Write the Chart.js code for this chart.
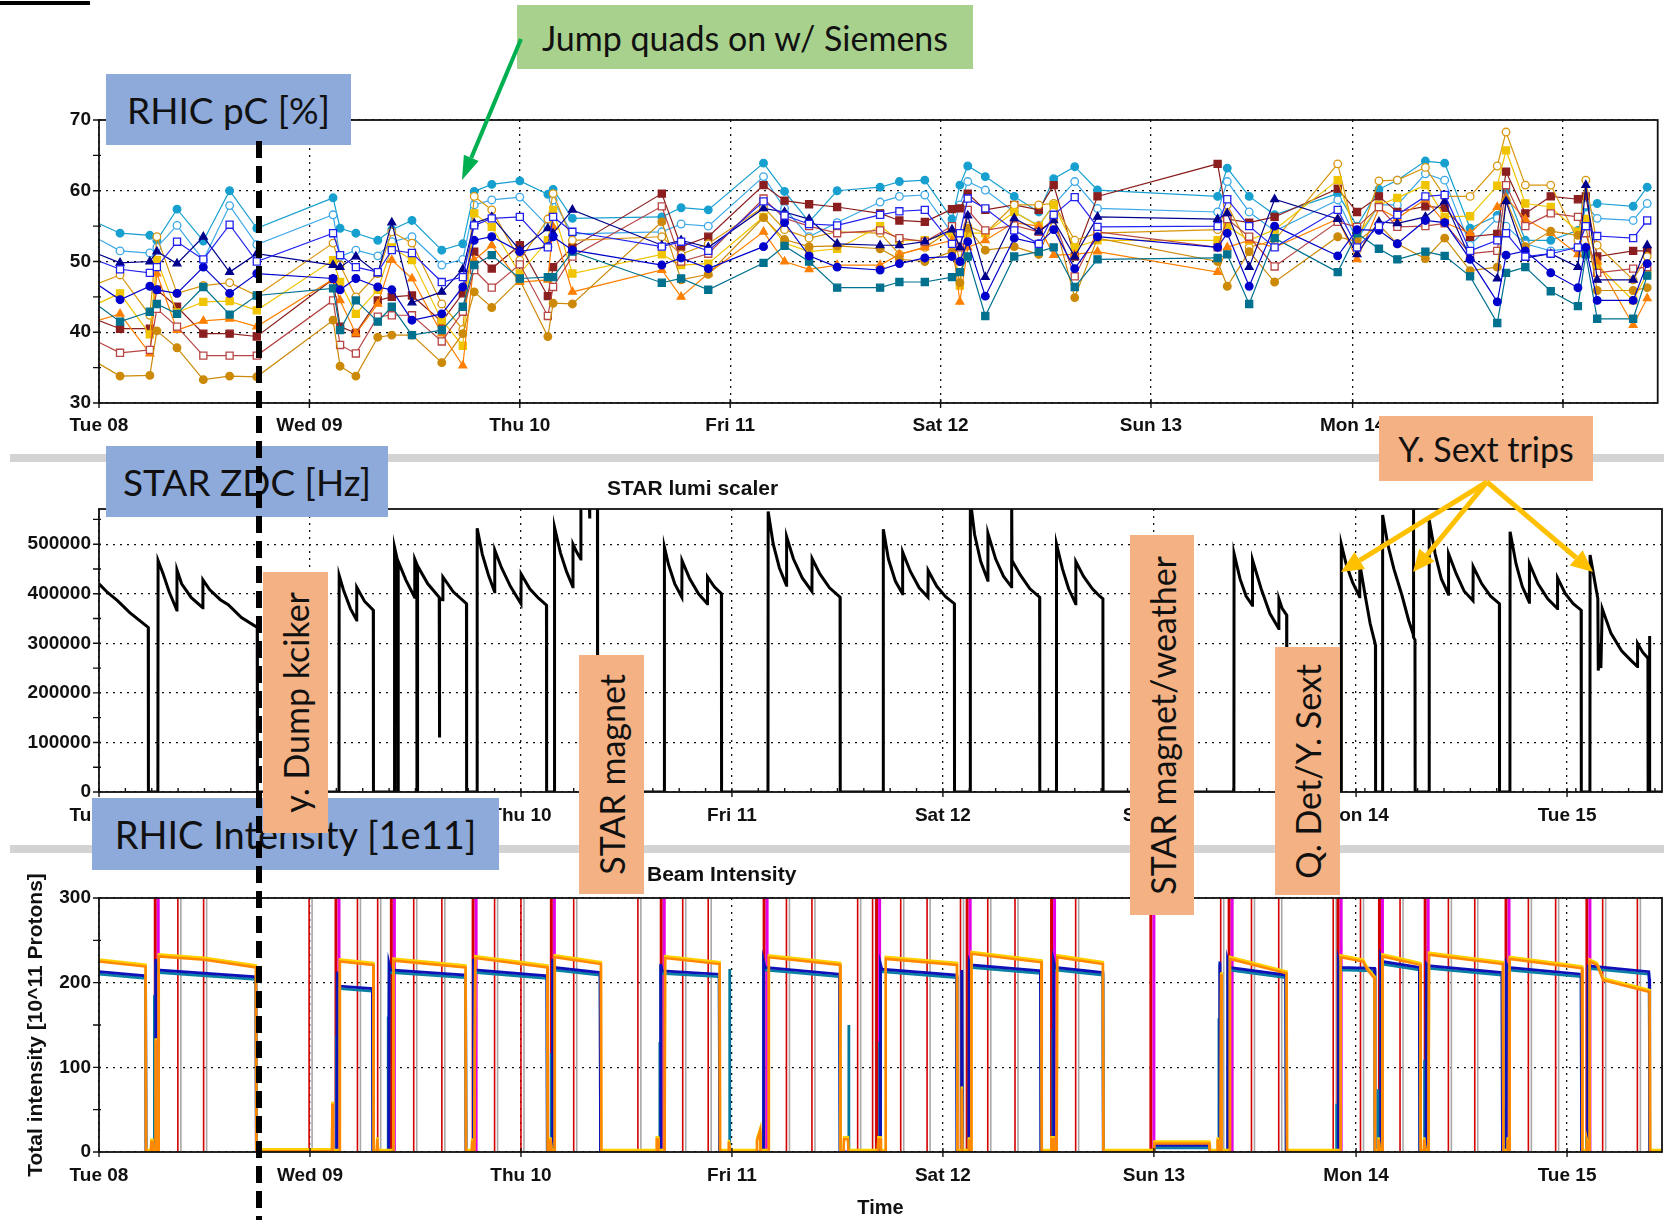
<!DOCTYPE html>
<html>
<head>
<meta charset="utf-8">
<title>RHIC pC / STAR ZDC / RHIC Intensity</title>
<script src="https://cdn.jsdelivr.net/npm/chart.js@4.4.1/dist/chart.umd.min.js"></script>
<style>
  html, body { margin: 0; padding: 0; background: #fff; }
  #page { position: relative; width: 1664px; height: 1220px; overflow: hidden; background: #fff; }
  canvas { position: absolute; left: 0; }
  .sep { position: absolute; left: 10px; width: 1654px; height: 8px; background: #d3d3d3; }
  .box { position: absolute; display: flex; align-items: center; justify-content: center;
         font-family: Lato, 'Open Sans', sans-serif; color: #111; white-space: nowrap; z-index: 3; }
  .blue { background: #8eaadb; font-size: 37px; }
  .orange { background: #f4b183; font-size: 34px; }
  .green { background: #a9d18e; font-size: 34px; }
  .vert span { writing-mode: vertical-rl; transform: rotate(180deg); }
  .plotTitle { position: absolute; font: bold 21px 'Liberation Sans', Arial, sans-serif; color: #111; }
  svg { position: absolute; left: 0; top: 0; z-index: 4; }
</style>
</head>
<body>
<div id="page">
  <div class="sep" style="top:454px"></div>
  <div class="sep" style="top:845px"></div>

  <canvas id="polChart" width="1664" height="360" style="top:100px"></canvas>
  <canvas id="zdcChart" width="1664" height="370" style="top:470px"></canvas>
  <canvas id="beamChart" width="1664" height="360" style="top:860px"></canvas>

  <div class="plotTitle" style="left:607px;top:476px">STAR lumi scaler</div>
  <div class="plotTitle" style="left:647px;top:862px">Beam Intensity</div>

  <div class="box green" style="left:517px;top:5px;width:456px;height:64px">Jump quads on w/ Siemens</div>
  <div class="box blue" style="left:106px;top:74px;width:245px;height:71px">RHIC pC [%]</div>
  <div class="box blue" style="left:106px;top:446px;width:282px;height:71px">STAR ZDC [Hz]</div>
  <div class="box blue" style="left:92px;top:798px;width:407px;height:72px;font-size:38px">RHIC Intensity [1e11]</div>
  <div class="box orange vert" style="left:263px;top:572px;width:65px;height:261px"><span>y. Dump kciker</span></div>
  <div class="box orange vert" style="left:579px;top:655px;width:65px;height:239px"><span>STAR magnet</span></div>
  <div class="box orange vert" style="left:1130px;top:535px;width:64px;height:380px"><span>STAR magnet/weather</span></div>
  <div class="box orange vert" style="left:1275px;top:647px;width:65px;height:248px"><span>Q. Det/Y. Sext</span></div>
  <div class="box orange" style="left:1379px;top:416px;width:214px;height:65px">Y. Sext trips</div>

  <svg id="notes" width="1664" height="1220"></svg>
</div>

<script>
// Axe temps : heures depuis mar. 08 00:00 (dim. 13 ne dure que 23 h)
const dayTicks = [0, 24, 48, 72, 96, 120, 143, 167];
const dayLabels = ['Tue 08', 'Wed 09', 'Thu 10', 'Fri 11', 'Sat 12', 'Sun 13', 'Mon 14', 'Tue 15'];
const xMax = 177.8;

// ---- RHIC pC polarisation [%] ----
const polTime = [-2, 2.4, 5.8, 6.6, 8.9, 11.9, 14.9, 18.0, 26.7, 27.5,
  29.3, 31.8, 33.4, 35.7, 39.1, 41.5, 42.8, 44.8, 48.0, 51.2,
  51.8, 54.0, 64.2, 66.4, 69.5, 75.8, 78.2, 81.0, 84.2, 89.1,
  91.3, 94.2, 97.3, 98.2, 99.1, 101.1, 104.4, 107.2, 108.9, 111.3,
  113.9, 127.6, 128.7, 131.2, 134.1, 141.3, 143.5, 146.0, 148.1, 151.3,
  153.5, 156.4, 159.5, 160.5, 162.7, 165.6, 168.7, 169.6, 170.9, 175.0, 176.6];

const polA = [56.5, 54.0, 53.7, 53.0, 57.4, 52.9, 60.0, 54.7, 59.0, 54.7,
  54.0, 53.0, 54.5, 55.8, 51.6, 52.5, 59.9, 60.9, 61.4, 59.5,
  60.2, 56.1, 56.3, 57.6, 57.3, 63.9, 59.9, 55.6, 60.0, 60.5,
  61.3, 61.5, 56.0, 60.8, 63.5, 62.0, 59.2, 57.0, 61.7, 63.4,
  60.1, 59.2, 63.2, 59.2, 56.6, 59.6, 55.0, 60.2, 61.5, 64.2,
  63.9, 54.7, 56.5, 60.0, 53.0, 53.0, 54.4, 57.7, 58.2, 57.8, 60.5];
const polB = [54.5, 51.5, 51.2, 52.0, 55.1, 50.2, 57.9, 52.4, 56.6, 50.7,
  51.6, 50.8, 52.8, 53.5, 49.5, 50.3, 58.0, 58.7, 59.1, 55.0,
  58.7, 53.9, 54.2, 55.3, 55.0, 62.0, 57.5, 53.5, 55.5, 58.4,
  59.2, 59.4, 54.0, 58.0, 61.3, 60.1, 57.0, 55.1, 58.0, 61.3,
  57.5, 57.0, 61.3, 57.0, 54.3, 58.7, 53.0, 58.0, 58.0, 62.4,
  61.5, 52.3, 56.1, 55.0, 52.5, 51.5, 52.0, 58.0, 56.1, 55.8, 58.2];
const polC = [51.0, 48.9, 48.4, 49.2, 52.8, 50.3, 55.2, 50.0, 54.0, 50.9,
  49.2, 48.5, 51.6, 51.2, 47.1, 47.8, 55.1, 56.1, 56.3, 52.0,
  56.3, 54.2, 52.1, 52.8, 51.5, 58.5, 56.5, 55.3, 55.1, 56.6,
  57.1, 57.3, 52.5, 54.0, 58.9, 57.5, 54.4, 52.5, 56.6, 59.1,
  54.9, 55.0, 58.8, 55.0, 52.0, 57.3, 52.0, 55.0, 56.6, 59.2,
  59.4, 51.5, 53.0, 54.0, 50.7, 51.1, 52.0, 55.0, 53.6, 53.3, 55.8];
const polD = [52.0, 49.8, 50.0, 51.4, 49.7, 53.5, 48.5, 51.1, 49.5, 49.2,
  50.7, 48.3, 55.5, 44.2, 45.7, 48.9, 55.4, 56.3, 51.6, 54.7,
  54.0, 57.3, 52.3, 53.0, 52.0, 57.5, 57.0, 56.0, 52.5, 52.3,
  52.3, 52.8, 54.5, 52.0, 56.5, 47.8, 56.1, 54.2, 55.8, 50.7,
  56.3, 56.0, 56.8, 49.2, 58.8, 56.0, 51.0, 55.6, 55.4, 56.3,
  58.5, 50.5, 47.6, 58.5, 50.5, 51.1, 49.2, 60.8, 47.4, 47.4, 52.3];
const polE = [48.3, 44.6, 46.5, 46.0, 45.5, 49.2, 45.5, 48.3, 47.6, 46.0,
  47.6, 46.4, 46.0, 41.7, 42.6, 46.4, 53.0, 53.5, 51.4, 52.1,
  53.5, 51.6, 49.5, 50.5, 49.0, 52.1, 55.5, 50.8, 49.2, 48.8,
  49.7, 50.5, 50.7, 50.0, 52.8, 45.1, 53.3, 52.5, 54.5, 49.0,
  53.5, 52.0, 54.0, 46.5, 55.0, 50.8, 54.5, 54.4, 52.5, 55.8,
  55.5, 50.3, 44.3, 50.9, 51.5, 48.4, 46.3, 52.0, 44.5, 44.5, 49.7];
const polF = [45.5, 41.5, 42.9, 44.0, 42.6, 46.4, 42.5, 45.2, 46.2, 40.3,
  44.5, 41.5, 43.6, 39.6, 40.3, 43.6, 49.5, 50.9, 47.6, 47.8,
  47.8, 51.4, 47.0, 47.6, 46.0, 49.8, 52.2, 50.0, 46.3, 46.3,
  47.1, 47.1, 47.8, 48.5, 50.7, 42.3, 50.7, 51.4, 52.0, 46.4,
  50.3, 50.5, 51.0, 44.0, 53.3, 48.5, 54.0, 51.8, 50.3, 51.4,
  50.8, 47.9, 41.3, 48.4, 49.2, 45.8, 43.7, 51.0, 41.9, 41.9, 48.0];
const polG = [46.0, 48.1, 42.4, 53.5, 45.5, 46.6, 47.0, 45.2, 52.6, 49.5,
  45.0, 48.3, 54.2, 52.6, 44.0, 40.4, 59.2, 57.3, 50.2, 56.0,
  59.6, 53.0, 53.5, 51.0, 52.5, 57.7, 54.5, 53.3, 54.2, 54.0,
  51.0, 52.0, 54.5, 50.0, 55.0, 54.0, 58.0, 58.0, 58.2, 53.0,
  54.0, 54.5, 58.0, 52.0, 53.0, 63.8, 52.5, 61.4, 61.5, 63.3,
  59.2, 59.2, 63.5, 68.3, 60.8, 60.8, 53.0, 61.5, 52.3, 47.4, 50.7];
const polH = [43.0, 45.5, 39.7, 50.2, 42.8, 44.3, 44.4, 43.1, 50.2, 47.1,
  42.6, 46.0, 52.0, 50.2, 41.7, 38.1, 56.8, 54.9, 48.3, 53.0,
  57.3, 48.3, 51.0, 49.5, 49.7, 56.3, 52.6, 51.4, 51.8, 55.0,
  53.0, 53.0, 54.0, 46.6, 54.0, 54.0, 57.0, 55.0, 58.0, 52.0,
  53.0, 53.0, 55.0, 53.0, 54.5, 61.5, 53.5, 58.0, 59.0, 60.8,
  56.3, 56.4, 60.7, 65.7, 58.2, 57.7, 54.2, 56.0, 49.5, 44.5, 48.3];
const polI = [41.0, 42.6, 37.0, 48.3, 40.3, 41.6, 41.9, 40.8, 47.5, 44.5,
  39.8, 44.0, 50.2, 47.6, 39.8, 35.3, 50.2, 52.3, 47.1, 47.4,
  54.9, 45.7, 48.8, 45.0, 48.3, 54.2, 50.0, 48.9, 49.5, 49.5,
  51.0, 52.0, 53.0, 44.3, 52.0, 53.0, 55.5, 55.0, 50.9, 51.0,
  51.4, 48.5, 52.0, 53.0, 52.0, 56.0, 50.3, 57.5, 56.1, 58.8,
  55.5, 54.0, 57.7, 59.0, 56.0, 54.0, 51.0, 52.0, 50.0, 41.0, 44.8];
const polJ = [42.6, 40.5, 40.5, 46.0, 43.6, 39.8, 39.8, 39.4, 47.5, 40.8,
  39.9, 44.5, 45.0, 45.2, 41.5, 45.5, 51.4, 49.0, 52.3, 45.1,
  49.2, 52.0, 59.6, 52.1, 53.5, 60.8, 58.6, 58.1, 57.7, 56.8,
  55.8, 55.6, 57.4, 57.5, 59.6, 57.3, 58.0, 57.3, 60.8, 50.7,
  59.2, 63.8, 56.0, 55.5, 56.3, 60.3, 57.0, 59.2, 57.0, 57.8,
  57.6, 53.5, 53.9, 62.7, 56.8, 59.2, 58.8, 59.2, 50.7, 51.5, 51.5];
const polK = [39.8, 37.1, 37.5, 43.3, 40.8, 36.7, 36.7, 36.7, 44.5, 38.2,
  37.0, 42.2, 42.4, 42.4, 38.7, 42.9, 48.8, 46.3, 49.6, 42.3,
  46.4, 50.7, 57.8, 50.0, 51.1, 58.9, 56.1, 55.0, 54.0, 54.4,
  53.3, 52.8, 55.0, 52.0, 57.3, 54.4, 55.1, 54.2, 56.0, 47.9,
  54.2, 52.0, 56.0, 53.5, 49.3, 55.6, 54.9, 57.7, 54.9, 55.0,
  55.4, 51.1, 51.5, 60.8, 55.0, 56.8, 56.3, 54.0, 48.4, 49.0, 49.2];
const polL = [37.0, 33.8, 33.9, 40.2, 37.8, 33.3, 33.8, 33.7, 41.7, 35.2,
  33.8, 39.3, 39.6, 39.6, 35.7, 39.8, 45.7, 43.5, 47.4, 39.4,
  44.1, 44.0, 55.6, 47.4, 48.2, 56.2, 53.1, 52.1, 52.2, 51.8,
  50.3, 50.0, 51.4, 47.0, 54.7, 51.6, 52.1, 51.0, 56.1, 44.9,
  53.3, 50.0, 46.5, 51.4, 47.1, 53.5, 52.8, 55.2, 52.5, 50.4,
  53.3, 48.7, 49.2, 58.7, 52.1, 54.3, 53.7, 55.0, 45.9, 45.9, 46.3];

// ---- STAR ZDC lumi scaler [Hz] : [heure, taux] ----
const zdcRate = [
  [0, 420000], [1.0, 402000], [2.1, 386000], [3.5, 362000], [5.6, 332000], [5.62, 0], [6.7, 0],
  [6.72, 467000], [7.3, 440000], [8.0, 403000], [8.85, 367000], [8.87, 448000], [9.4, 420000], [10.5, 392000], [11.8, 372000],
  [11.82, 428000], [12.6, 408000], [13.8, 388000], [14.7, 378000], [16.2, 352000], [18.0, 332000], [18.02, 0], [27.3, 0],
  [27.32, 437000], [27.8, 408000], [28.6, 370000], [29.3, 347000], [29.32, 413000], [30.2, 385000], [31.2, 367000], [31.22, 0], [33.6, 0],
  [33.62, 494000], [33.95, 468000], [33.97, 0], [34.02, 0], [34.04, 465000], [34.9, 428000], [35.9, 393000], [35.92, 470000],
  [36.15, 460000], [36.17, 0], [36.22, 0], [36.24, 456000], [37.4, 420000], [38.7, 393000], [38.72, 110000], [38.76, 390000],
  [39.1, 388000], [39.12, 434000], [40.3, 404000], [41.8, 380000], [41.82, 0], [43.0, 0],
  [43.02, 532000], [43.6, 480000], [44.3, 438000], [45.0, 404000], [45.02, 488000], [45.8, 452000], [46.8, 415000], [48.0, 380000],
  [48.02, 440000], [49.0, 410000], [50.0, 391000], [50.9, 377000], [50.92, 0], [51.8, 0],
  [51.82, 534000], [52.5, 482000], [53.2, 444000], [53.9, 414000], [53.92, 500000], [54.4, 482000], [54.8, 470000], [54.82, 600000],
  [55.75, 600000], [55.8, 552000], [55.85, 600000], [56.7, 600000], [56.72, 0], [64.3, 0],
  [64.32, 494000], [64.8, 458000], [65.5, 420000], [66.3, 393000], [66.32, 467000], [67.2, 430000], [68.2, 400000], [69.2, 380000],
  [69.22, 434000], [70.0, 414000], [70.8, 400000], [70.82, 0], [76.1, 0],
  [76.12, 566000], [76.7, 500000], [77.4, 452000], [78.2, 417000], [78.22, 515000], [79.0, 470000], [80.0, 432000], [81.1, 405000],
  [81.12, 471000], [82.0, 440000], [83.1, 412000], [84.3, 393000], [84.32, 0], [89.2, 0],
  [89.22, 530000], [89.8, 470000], [90.6, 425000], [91.4, 400000], [91.42, 484000], [92.3, 445000], [93.3, 412000], [94.3, 393000],
  [94.32, 447000], [95.3, 415000], [96.3, 394000], [97.3, 380000], [97.32, 0], [99.1, 0],
  [99.12, 590000], [99.6, 520000], [100.3, 465000], [101.1, 427000], [101.12, 522000], [102.0, 470000], [102.9, 435000], [103.8, 414000],
  [103.82, 600000], [103.86, 467000], [104.8, 438000], [105.9, 410000], [107.0, 393000], [107.02, 0], [108.9, 0],
  [108.92, 500000], [109.6, 450000], [110.3, 410000], [111.1, 380000], [111.12, 465000], [112.0, 435000], [113.0, 410000],
  [113.9, 394000], [114.2, 390000], [114.22, 0], [129.1, 0],
  [129.12, 481000], [129.8, 430000], [130.5, 395000], [131.2, 377000], [131.22, 468000], [132.2, 410000], [133.2, 360000], [134.2, 330000],
  [134.22, 390000], [134.6, 370000], [135.1, 357000], [135.12, 0], [141.3, 0],
  [141.32, 500000], [141.9, 458000], [142.6, 423000], [143.4, 394000], [143.42, 461000], [144.0, 400000], [144.6, 340000], [145.2, 297000],
  [145.22, 0], [146.0, 0],
  [146.02, 559000], [146.6, 500000], [147.3, 450000], [148.2, 398000], [149.0, 345000], [149.5, 318000], [149.52, 600000], [149.56, 312000],
  [149.7, 307000], [149.72, 0], [151.3, 0],
  [151.32, 549000], [152.0, 480000], [152.7, 430000], [153.5, 399000], [153.52, 481000], [154.4, 440000], [155.3, 405000], [156.3, 386000],
  [156.32, 455000], [157.3, 420000], [158.3, 395000], [159.3, 380000], [159.32, 0], [160.5, 0],
  [160.52, 525000], [161.2, 460000], [161.9, 415000], [162.7, 383000], [162.72, 461000], [163.7, 420000], [164.8, 390000], [165.9, 370000],
  [165.92, 432000], [166.8, 400000], [167.7, 380000], [168.6, 367000], [168.62, 0], [169.6, 0],
  [169.62, 478000], [170.1, 430000], [170.5, 390000], [170.55, 245000], [170.75, 300000], [170.85, 250000], [171.0, 370000],
  [172.0, 320000], [173.2, 285000], [174.3, 265000], [175.0, 253000], [175.02, 300000], [175.6, 282000], [176.2, 270000],
  [176.22, 0], [176.35, 0], [176.37, 315000], [176.42, 0], [177.8, 0]
];

// ---- RHIC beam intensity [1e11] : [heure, intensité] ----
const yellowBeam = [
  [0, 225], [5.3, 219], [5.35, 0], [5.9, 0], [5.95, 12], [6.1, 12], [6.15, 0], [6.4, 0], [6.45, 132], [6.5, 0], [6.75, 0],
  [6.8, 231], [12.0, 227], [17.85, 218], [17.9, 1], [26.5, 1], [26.55, 57], [26.6, 0], [27.35, 0], [27.4, 225], [31.2, 221],
  [31.25, 0], [31.6, 0], [31.65, 15], [31.75, 0], [33.45, 0], [33.5, 226], [41.7, 218], [41.75, 0], [42.4, 0], [42.45, 12],
  [42.65, 12], [42.7, 0], [42.75, 0], [42.8, 229], [51.0, 218], [51.05, 0], [51.3, 0], [51.35, 15], [51.5, 0], [51.8, 0],
  [51.85, 230], [57.1, 222], [57.15, 0], [63.4, 0], [63.45, 15], [63.6, 15], [63.65, 0], [64.35, 0], [64.4, 229], [70.6, 222],
  [70.65, 0], [71.6, 0], [71.65, 12], [71.8, 0], [74.8, 0], [74.85, 13], [75.2, 25], [75.25, 0], [76.15, 0], [76.2, 230],
  [84.3, 221], [84.35, 0], [84.7, 0], [84.75, 15], [85.2, 15], [85.25, 0], [88.6, 0], [88.65, 15], [88.9, 15], [88.95, 0],
  [89.45, 0], [89.5, 228], [97.6, 221], [97.65, 0], [98.1, 0], [98.15, 75], [98.2, 0], [98.9, 0], [98.95, 15], [99.05, 0],
  [99.2, 0], [99.25, 234], [107.2, 224], [107.25, 0], [108.3, 0], [108.35, 15], [108.6, 15], [108.65, 0], [108.95, 0],
  [109.0, 230], [114.2, 222], [114.25, 0], [120.0, 0], [120.05, 10], [126.3, 10], [126.35, 0], [127.2, 0], [127.25, 15],
  [127.4, 0], [127.6, 0], [127.65, 210], [127.7, 0], [128.6, 0], [128.65, 228], [135.1, 211], [135.15, 0], [141.2, 0],
  [141.25, 230], [143.8, 225], [144.3, 215], [145.1, 205], [145.15, 0], [145.5, 0], [145.55, 15], [145.7, 0], [145.95, 0],
  [146.0, 231], [150.3, 221], [150.35, 0], [150.7, 0], [150.75, 15], [150.9, 0], [151.25, 0], [151.3, 233], [159.7, 222],
  [159.75, 0], [160.2, 0], [160.25, 15], [160.4, 0], [160.45, 0], [160.5, 228], [168.7, 217], [168.75, 0], [169.2, 0],
  [169.25, 12], [169.5, 0], [169.55, 0], [169.6, 225], [170.4, 221], [171.1, 203], [176.4, 189], [176.45, 0], [177.8, 0]
];
const blueBeam = [
  [0, 213], [5.3, 208], [5.35, 0], [6.4, 0], [6.45, 228], [6.6, 215], [17.85, 207], [17.9, 0], [27.05, 0], [27.1, 213],
  [27.3, 196], [31.1, 193], [31.15, 0], [32.95, 0], [33.0, 222], [33.15, 215], [41.7, 209], [41.75, 0], [42.55, 0],
  [42.6, 228], [42.75, 215], [50.95, 208], [51.0, 0], [51.55, 0], [51.6, 228], [51.75, 218], [57.0, 212], [57.05, 0],
  [63.85, 0], [63.9, 222], [64.05, 214], [70.55, 210], [70.6, 0], [75.55, 0], [75.6, 225], [75.75, 218], [84.25, 210],
  [84.3, 0], [88.85, 0], [88.9, 222], [89.05, 216], [97.55, 209], [97.6, 0], [98.1, 0], [98.15, 215], [98.2, 0], [98.95, 0],
  [99.0, 225], [99.15, 221], [107.1, 214], [107.15, 0], [108.55, 0], [108.6, 225], [108.75, 218], [114.2, 212], [114.25, 0],
  [120.0, 0], [120.05, 8], [126.3, 8], [126.35, 0], [127.45, 0], [127.5, 225], [127.55, 0], [128.35, 0], [128.4, 225],
  [128.55, 218], [135.0, 209], [135.05, 0], [140.95, 0], [141.0, 225], [141.15, 218], [145.1, 217], [145.15, 0], [145.75, 0],
  [145.8, 230], [145.95, 225], [150.2, 218], [150.25, 0], [150.95, 0], [151.0, 222], [151.15, 220], [159.6, 212], [159.65, 0],
  [160.05, 0], [160.1, 222], [160.25, 218], [168.6, 210], [168.65, 0], [169.35, 0], [169.4, 220], [176.3, 213], [176.35, 205],
  [176.4, 0], [177.8, 0]
];
const spikeTime = [6.3, 27.0, 32.9, 51.45, 63.8, 71.75, 85.3, 88.8, 108.5, 127.4, 140.8, 145.5, 150.8, 160.0, 169.2];
const spikeVal = [185, 137, 160, 117, 130, 216, 150, 130, 145, 158, 57, 74, 109, 54, 18];
const redTime = [8.97, 11.9, 23.9, 29.4, 31.7, 33.2, 35.8, 39.0, 45.0, 48.0, 54.0, 61.3, 66.4, 69.3, 78.2, 81.1, 86.3,
  88.0, 91.2, 94.2, 98.0, 101.1, 104.2, 111.1, 127.6, 131.1, 134.2, 140.4, 143.5, 148.0, 153.5, 156.5, 162.6, 165.7,
  171.05, 175.0];
const magTime = [6.74, 27.3, 33.6, 42.9, 51.8, 64.3, 76.0, 88.8, 99.1, 108.7, 120.0, 128.9, 141.3, 146.0, 151.2, 160.4, 169.6];

// ---------------------------------------------------------------
const tickFont = { family: "'Liberation Sans', Arial, sans-serif", size: 19, weight: 'bold' };

// cadre + petites graduations
const framePlugin = {
    id: 'frame',
    afterDraw(chart, args, opts) {
        const { ctx, chartArea: a } = chart;
        const xs = chart.scales.x;
        const ys = chart.scales.y;
        ctx.save();
        ctx.strokeStyle = '#111';
        ctx.lineWidth = 1.8;
        ctx.strokeRect(a.left, a.top, a.right - a.left, a.bottom - a.top);
        ctx.lineWidth = 1.4;
        ctx.beginPath();
        for (let v = ys.min; v <= ys.max + 1e-6; v += opts.yMinor) {
            const py = ys.getPixelForValue(v);
            ctx.moveTo(a.left - 6, py);
            ctx.lineTo(a.left + 2, py);
        }
        dayTicks.forEach(t => {
            const px = xs.getPixelForValue(t);
            ctx.moveTo(px, a.bottom - 4);
            ctx.lineTo(px, a.bottom + 5);
        });
        if (opts.xMinor) {
            for (let t = opts.xMinor; t < xMax; t += opts.xMinor) {
                const px = xs.getPixelForValue(t);
                ctx.moveTo(px, a.bottom);
                ctx.lineTo(px, a.bottom - 4);
            }
        }
        ctx.stroke();
        ctx.restore();
    }
};

// ombre décalée (liseré jaune / teal / gris à côté des traits)
const shadowPlugin = {
    id: 'offsetShadow',
    beforeDatasetDraw(chart, args) {
        const s = chart.data.datasets[args.index].shadow;
        if (!s) return;
        const ctx = chart.ctx;
        ctx.save();
        ctx.shadowColor = s.color;
        ctx.shadowOffsetX = s.dx || 0;
        ctx.shadowOffsetY = s.dy || 0;
        ctx.shadowBlur = 0;
    },
    afterDatasetDraw(chart, args) {
        if (chart.data.datasets[args.index].shadow) chart.ctx.restore();
    }
};

Chart.register(framePlugin, shadowPlugin);

function panelOptions(cfg) {
    return {
        responsive: false,
        animation: false,
        events: [],
        layout: { padding: { top: cfg.padTop, right: 2, left: 0, bottom: 0 } },
        plugins: {
            legend: { display: false },
            tooltip: { enabled: false },
            frame: { yMinor: cfg.yMinor, xMinor: cfg.xMinor || 0 }
        },
        scales: {
            x: {
                type: 'linear',
                min: 0,
                max: xMax,
                afterBuildTicks: s => { s.ticks = dayTicks.map(v => ({ value: v })); },
                afterFit: s => { s.height = cfg.xHeight; },
                ticks: {
                    callback: v => dayLabels[dayTicks.indexOf(v)],
                    color: '#111', font: tickFont, padding: cfg.labelPad,
                    autoSkip: false, maxRotation: 0
                },
                grid: { color: '#111', lineWidth: 1.3, drawTicks: false },
                border: { display: false, dash: [2, 5] },
                title: cfg.xTitle ? {
                    display: true, text: cfg.xTitle, color: '#111',
                    font: { family: tickFont.family, size: 20, weight: 'bold' },
                    padding: { top: 0, bottom: 0 }
                } : { display: false }
            },
            y: {
                type: 'linear',
                min: cfg.yMin,
                max: cfg.yMax,
                afterBuildTicks: s => { s.ticks = cfg.yTicks.map(v => ({ value: v })); },
                afterFit: s => { s.width = 99; },
                ticks: { color: '#111', font: tickFont, padding: 8, autoSkip: false, callback: v => String(v) },
                grid: { color: '#111', lineWidth: 1.3, drawTicks: false },
                border: { display: false, dash: [2, 5] },
                title: cfg.yTitle ? {
                    display: true, text: cfg.yTitle, color: '#111',
                    font: { family: tickFont.family, size: 21, weight: 'bold' },
                    padding: { top: 24, bottom: 0 }
                } : { display: false }
            }
        }
    };
}

// --- panneau 1 : polarisation ---
const polSeries = [
    { values: polC, color: '#2222f0', marker: 'rect', open: true },
    { values: polE, color: '#0000cc', marker: 'circle', open: false },
    { values: polD, color: '#00008c', marker: 'triangle', open: false },
    { values: polF, color: '#00718e', marker: 'rect', open: false },
    { values: polL, color: '#cc8a08', marker: 'circle', open: false },
    { values: polK, color: '#b84545', marker: 'rect', open: true },
    { values: polI, color: '#ff8000', marker: 'triangle', open: false },
    { values: polH, color: '#f0c400', marker: 'rect', open: false },
    { values: polG, color: '#d8960e', marker: 'circle', open: true },
    { values: polJ, color: '#8b1e1e', marker: 'rect', open: false },
    { values: polB, color: '#3aa8e8', marker: 'circle', open: true },
    { values: polA, color: '#17a0cf', marker: 'circle', open: false }
];

new Chart(document.getElementById('polChart'), {
    type: 'line',
    data: {
        datasets: polSeries.map(s => ({
            data: polTime.map((t, i) => ({ x: t, y: s.values[i] })),
            borderColor: s.color,
            backgroundColor: s.color,
            pointBackgroundColor: s.open ? '#fff' : s.color,
            pointBorderColor: s.color,
            pointStyle: s.marker,
            pointRadius: s.marker === 'rect' ? 5 : (s.marker === 'triangle' ? 4.5 : 3.8),
            pointBorderWidth: 1.3,
            borderWidth: 1.2,
            tension: 0,
            spanGaps: true
        }))
    },
    options: panelOptions({ padTop: 20, xHeight: 57, labelPad: 11, yMin: 30, yMax: 70,
        yTicks: [30, 40, 50, 60, 70], yMinor: 5 })
});

// --- panneau 2 : STAR ZDC ---
new Chart(document.getElementById('zdcChart'), {
    type: 'line',
    data: {
        datasets: [{
            data: zdcRate.map(p => ({ x: p[0], y: p[1] })),
            borderColor: '#000',
            borderWidth: 3,
            pointRadius: 0,
            tension: 0
        }]
    },
    options: panelOptions({ padTop: 39, xHeight: 48, labelPad: 12, yMin: 0, yMax: 571000,
        yTicks: [0, 100000, 200000, 300000, 400000, 500000], yMinor: 50000, xMinor: 3 })
});

// --- panneau 3 : intensité ---
function verticals(times, top) {
    const pts = [];
    times.forEach(t => { pts.push({ x: t, y: 0 }, { x: t, y: top }, { x: t, y: null }); });
    return pts;
}
function spikes(times, vals) {
    const pts = [];
    times.forEach((t, i) => { pts.push({ x: t, y: 0 }, { x: t, y: vals[i] }, { x: t, y: null }); });
    return pts;
}

new Chart(document.getElementById('beamChart'), {
    type: 'line',
    data: {
        datasets: [
            { data: verticals(redTime, 300), borderColor: '#d40000', borderWidth: 1.6, pointRadius: 0,
              spanGaps: false, order: 6, shadow: { color: '#a8a8a8', dx: 3 } },
            { data: verticals(magTime, 300), borderColor: '#e400e4', borderWidth: 3, pointRadius: 0,
              spanGaps: false, order: 5, shadow: { color: '#d40000', dx: -3 } },
            { data: spikes(spikeTime, spikeVal), borderColor: '#00789c', borderWidth: 2.8, pointRadius: 0,
              spanGaps: false, order: 4 },
            { data: blueBeam.map(p => ({ x: p[0], y: p[1] })), borderColor: '#1010b8', borderWidth: 2.8,
              pointRadius: 0, tension: 0, order: 3, shadow: { color: '#0a80a4', dy: 2.5 } },
            { data: yellowBeam.map(p => ({ x: p[0], y: p[1] })), borderColor: '#ff8800', borderWidth: 2.5,
              pointRadius: 0, tension: 0, order: 2, shadow: { color: '#ffd000', dy: -2 } }
        ]
    },
    options: panelOptions({ padTop: 38, xHeight: 68, labelPad: 12, yMin: 0, yMax: 300,
        yTicks: [0, 100, 200, 300], yMinor: 50, xTitle: 'Time', yTitle: 'Total intensity [10^11 Protons]' })
});

// --- annotations : flèches, trait pointillé ---
const NS = 'http://www.w3.org/2000/svg';
const svg = document.getElementById('notes');
function el(name, attrs) {
    const e = document.createElementNS(NS, name);
    Object.keys(attrs).forEach(k => e.setAttribute(k, attrs[k]));
    svg.appendChild(e);
    return e;
}
function arrow(x1, y1, x2, y2, color, width, headLen, headHalf) {
    const ang = Math.atan2(y2 - y1, x2 - x1);
    const bx = x2 - headLen * Math.cos(ang);
    const by = y2 - headLen * Math.sin(ang);
    el('line', { x1, y1, x2: bx, y2: by, stroke: color, 'stroke-width': width });
    const px = Math.sin(ang) * headHalf, py = -Math.cos(ang) * headHalf;
    el('polygon', { points: `${x2},${y2} ${bx + px},${by + py} ${bx - px},${by - py}`, fill: color });
}

el('line', { x1: 0, y1: 3, x2: 90, y2: 3, stroke: '#000', 'stroke-width': 4 });
el('line', { x1: 259, y1: 141, x2: 259, y2: 1220, stroke: '#000', 'stroke-width': 6, 'stroke-dasharray': '17 8' });
arrow(521, 39, 462, 180, '#00b050', 4, 24, 8);
arrow(1487, 482, 1341, 572, '#ffc000', 5, 22, 10);
arrow(1487, 482, 1413, 572, '#ffc000', 5, 22, 10);
arrow(1487, 482, 1593, 572, '#ffc000', 5, 22, 10);
</script>
</body>
</html>
